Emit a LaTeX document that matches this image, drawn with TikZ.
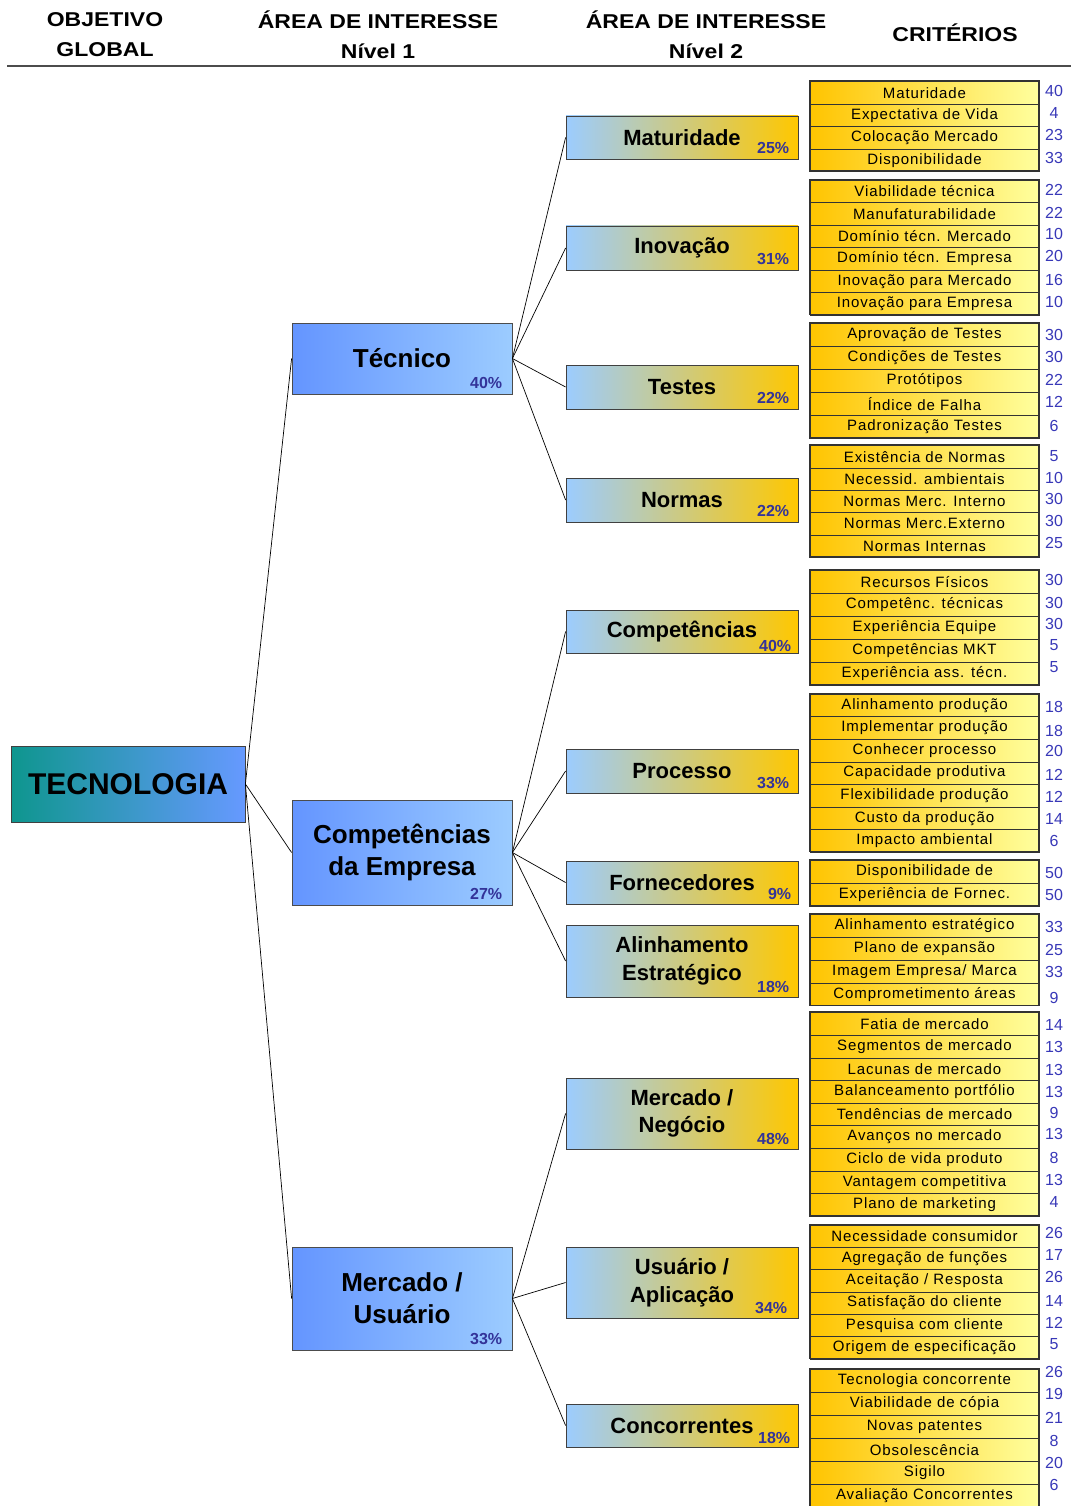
\documentclass[tikz,border=0pt]{standalone}
\usepackage{fontspec}
\setmainfont{Liberation Sans}
\newfontfamily\hdrfont[FakeStretch=1.15]{Liberation Sans}
\newfontfamily\critfont[LetterSpace=6]{Liberation Sans}

\definecolor{rootL}{HTML}{0E968E}
\definecolor{rootR}{HTML}{6699FF}
\definecolor{oneL}{HTML}{6495FF}
\definecolor{oneR}{HTML}{9CCCFF}
\definecolor{twoL}{HTML}{9CCCFF}
\definecolor{twoR}{HTML}{FFC800}
\definecolor{critL}{HTML}{FFC400}
\definecolor{critR}{HTML}{FFFF9E}
\definecolor{pctblue}{HTML}{333399}
\definecolor{numblue}{HTML}{3838B8}

\tikzset{
  rootbox/.style={draw=black!75, line width=0.8pt, left color=rootL, right color=rootR,
    minimum width=234pt, minimum height=76pt, inner sep=0pt,
    font=\fontsize{30}{36}\selectfont\bfseries},
  lvone/.style={draw=black!70, line width=0.8pt, left color=oneL, right color=oneR,
    minimum width=220pt, align=center, inner sep=0pt,
    font=\fontsize{26}{32}\selectfont\bfseries},
  lvtwo/.style={draw=black!75, line width=0.8pt, left color=twoL, right color=twoR,
    minimum width=232pt, align=center, inner sep=0pt,
    font=\fontsize{22}{27.5}\selectfont\bfseries},
  pct/.style={text=pctblue, inner sep=0pt, anchor=south east,
    font=\fontsize{16}{16}\selectfont\bfseries},
  critrow/.style={draw=black!80, line width=0.6pt, left color=critL, right color=critR,
    minimum width=229pt, inner sep=0pt, font=\critfont\fontsize{15}{15}\selectfont},
  critnum/.style={text=numblue, inner sep=0pt, font=\fontsize{16}{16}\selectfont},
  critframe/.style={draw=black!80, line width=1.4pt},
  hdr/.style={align=center, inner sep=0pt, font=\hdrfont\fontsize{20}{30}\selectfont\bfseries},
  link/.style={draw=black, line width=0.7pt}
}

% one block of criteria: id, top, row height, number of rows, labels
\newcommand\critgroup[5]{%
  \foreach \txt [count=\k] in {#5}
    \node[critrow, minimum height=#3pt] (#1-\k) at (924.5,{#2+(\k-0.5)*#3+0.5}) {\txt};
  \draw[critframe] (810,#2) rectangle (1039,{#2+#4*#3});
}

\begin{document}
\begin{tikzpicture}[x=1pt,y=-1pt]
\useasboundingbox[fill=white] (0,0) rectangle (1071,1506);

% column headings
\node[hdr] (h0) at (105,35) {OBJETIVO\\GLOBAL};
\node[hdr] (h1) at (378,35) {ÁREA DE INTERESSE\\Nível 1};
\node[hdr] (h2) at (706,35) {ÁREA DE INTERESSE\\Nível 2};
\node[hdr] (h3) at (955,33) {CRITÉRIOS};
\draw[draw=black!70, line width=1.8pt] (7,66) -- (1071,66);

% goal
\node[rootbox] (root) at (128,784) {TECNOLOGIA};

% level 1
\node[lvone, minimum height=71pt] (tec) at (402,358.5) {Técnico};
\node[pct, xshift=-10pt, yshift=6pt] (tec-p) at (tec.south east) {40\%};
\node[lvone, minimum height=105pt] (emp) at (402,852.5) {Competências\\da Empresa};
\node[pct, xshift=-10pt, yshift=6pt] (emp-p) at (emp.south east) {27\%};
\node[lvone, minimum height=103pt] (mus) at (402,1298.5) {Mercado /\\Usuário};
\node[pct, xshift=-10pt, yshift=6pt] (mus-p) at (mus.south east) {33\%};

% level 2
\node[lvtwo, minimum height=43pt] (mat) at (682,137.5) {Maturidade};
\node[pct, xshift=-9pt, yshift=6pt] (mat-p) at (mat.south east) {25\%};
\node[lvtwo, minimum height=44pt] (ino) at (682,248) {Inovação};
\node[pct, xshift=-9pt, yshift=6pt] (ino-p) at (ino.south east) {31\%};
\node[lvtwo, minimum height=44pt] (tes) at (682,387) {Testes};
\node[pct, xshift=-9pt, yshift=6pt] (tes-p) at (tes.south east) {22\%};
\node[lvtwo, minimum height=44pt] (nor) at (682,500) {Normas};
\node[pct, xshift=-9pt, yshift=6pt] (nor-p) at (nor.south east) {22\%};
\node[lvtwo, minimum height=43pt] (com) at (682,631.5) {Competências};
\node[pct, xshift=-7pt, yshift=2pt] (com-p) at (com.south east) {40\%};
\node[lvtwo, minimum height=44pt] (pro) at (682,771) {Processo};
\node[pct, xshift=-9pt, yshift=5pt] (pro-p) at (pro.south east) {33\%};
\node[lvtwo, minimum height=43pt] (for) at (682,882.5) {Fornecedores};
\node[pct, xshift=-7pt, yshift=5pt] (for-p) at (for.south east) {9\%};
\node[lvtwo, minimum height=72pt] (ali) at (682,961) {Alinhamento\\Estratégico};
\node[pct, xshift=-9pt, yshift=5pt] (ali-p) at (ali.south east) {18\%};
\node[lvtwo, minimum height=71pt] (mne) at (682,1113.5) {Mercado /\\Negócio};
\node[pct, xshift=-9pt, yshift=5pt] (mne-p) at (mne.south east) {48\%};
\node[lvtwo, minimum height=71pt] (uap) at (682,1282.5) {Usuário /\\Aplicação};
\node[pct, xshift=-11pt, yshift=5pt] (uap-p) at (uap.south east) {34\%};
\node[lvtwo, minimum height=43pt] (con) at (682,1425.5) {Concorrentes};
\node[pct, xshift=-8pt, yshift=4pt] (con-p) at (con.south east) {18\%};

% tree connectors
\foreach \c in {tec,emp,mus} \draw[link] (root.east) -- (\c.west);
\foreach \c in {mat,ino,tes,nor} \draw[link] (tec.east) -- (\c.west);
\foreach \c in {com,pro,for,ali} \draw[link] (emp.east) -- (\c.west);
\foreach \c in {mne,uap,con} \draw[link] (mus.east) -- (\c.west);

% criteria
\critgroup{ga}{81}{22.5}{4}{Maturidade,Expectativa de Vida,Colocação Mercado,Disponibilidade}
\critgroup{gb}{179.5}{22.5}{6}{Viabilidade técnica,Manufaturabilidade,Domínio técn. Mercado,Domínio técn. Empresa,Inovação para Mercado,Inovação para Empresa}
\critgroup{gc}{323}{23}{5}{Aprovação de Testes,Condições de Testes,Protótipos,Índice de Falha,Padronização Testes}
\critgroup{gd}{445}{22.4}{5}{Existência de Normas,Necessid. ambientais,Normas Merc. Interno,Normas Merc.Externo,Normas Internas}
\critgroup{ge}{570}{23}{5}{Recursos Físicos,Competênc.  técnicas,Experiência Equipe,Competências MKT,Experiência ass. técn.}
\critgroup{gf}{693.5}{22.6}{7}{Alinhamento produção,Implementar produção,Conhecer processo,Capacidade produtiva,Flexibilidade produção,Custo da produção,Impacto ambiental}
\critgroup{gg}{860}{23}{2}{Disponibilidade de,Experiência de Fornec.}
\critgroup{gh}{914}{22.8}{4}{Alinhamento estratégico,Plano de expansão,Imagem Empresa/ Marca,Comprometimento áreas}
\critgroup{gi}{1012}{22.65}{9}{Fatia de mercado,Segmentos de mercado,Lacunas de mercado,Balanceamento portfólio,Tendências de mercado,Avanços no mercado,Ciclo de vida produto,Vantagem competitiva,Plano de marketing}
\critgroup{gj}{1224.5}{22.3}{6}{Necessidade consumidor,Agregação de funções,Aceitação / Resposta,Satisfação do cliente,Pesquisa com cliente,Origem de especificação}
\critgroup{gk}{1369}{23}{6}{Tecnologia concorrente,Viabilidade de cópia,Novas patentes,Obsolescência,Sigilo,Avaliação Concorrentes}

% criteria weights
\foreach \y/\v in {91/40,113/4,135/23,158/33,
  190/22,213/22,234/10,256/20,280/16,302/10,
  335/30,357/30,380/22,402/12,426/6,
  456/5,478/10,499/30,521/30,543/25,
  580/30,603/30,624/30,645/5,667/5,
  707/18,731/18,751/20,775/12,797/12,819/14,841/6,
  873/50,895/50,
  927/33,950/25,972/33,998/9,
  1025/14,1047/13,1070/13,1092/13,1113/9,1134/13,1158/8,1180/13,1202/4,
  1233/26,1255/17,1277/26,1301/14,1323/12,1344/5,
  1372/26,1394/19,1418/21,1441/8,1463/20,1485/6}
  \node[critnum] (w-\y) at (1054,\y) {\v};
\end{tikzpicture}
\end{document}
